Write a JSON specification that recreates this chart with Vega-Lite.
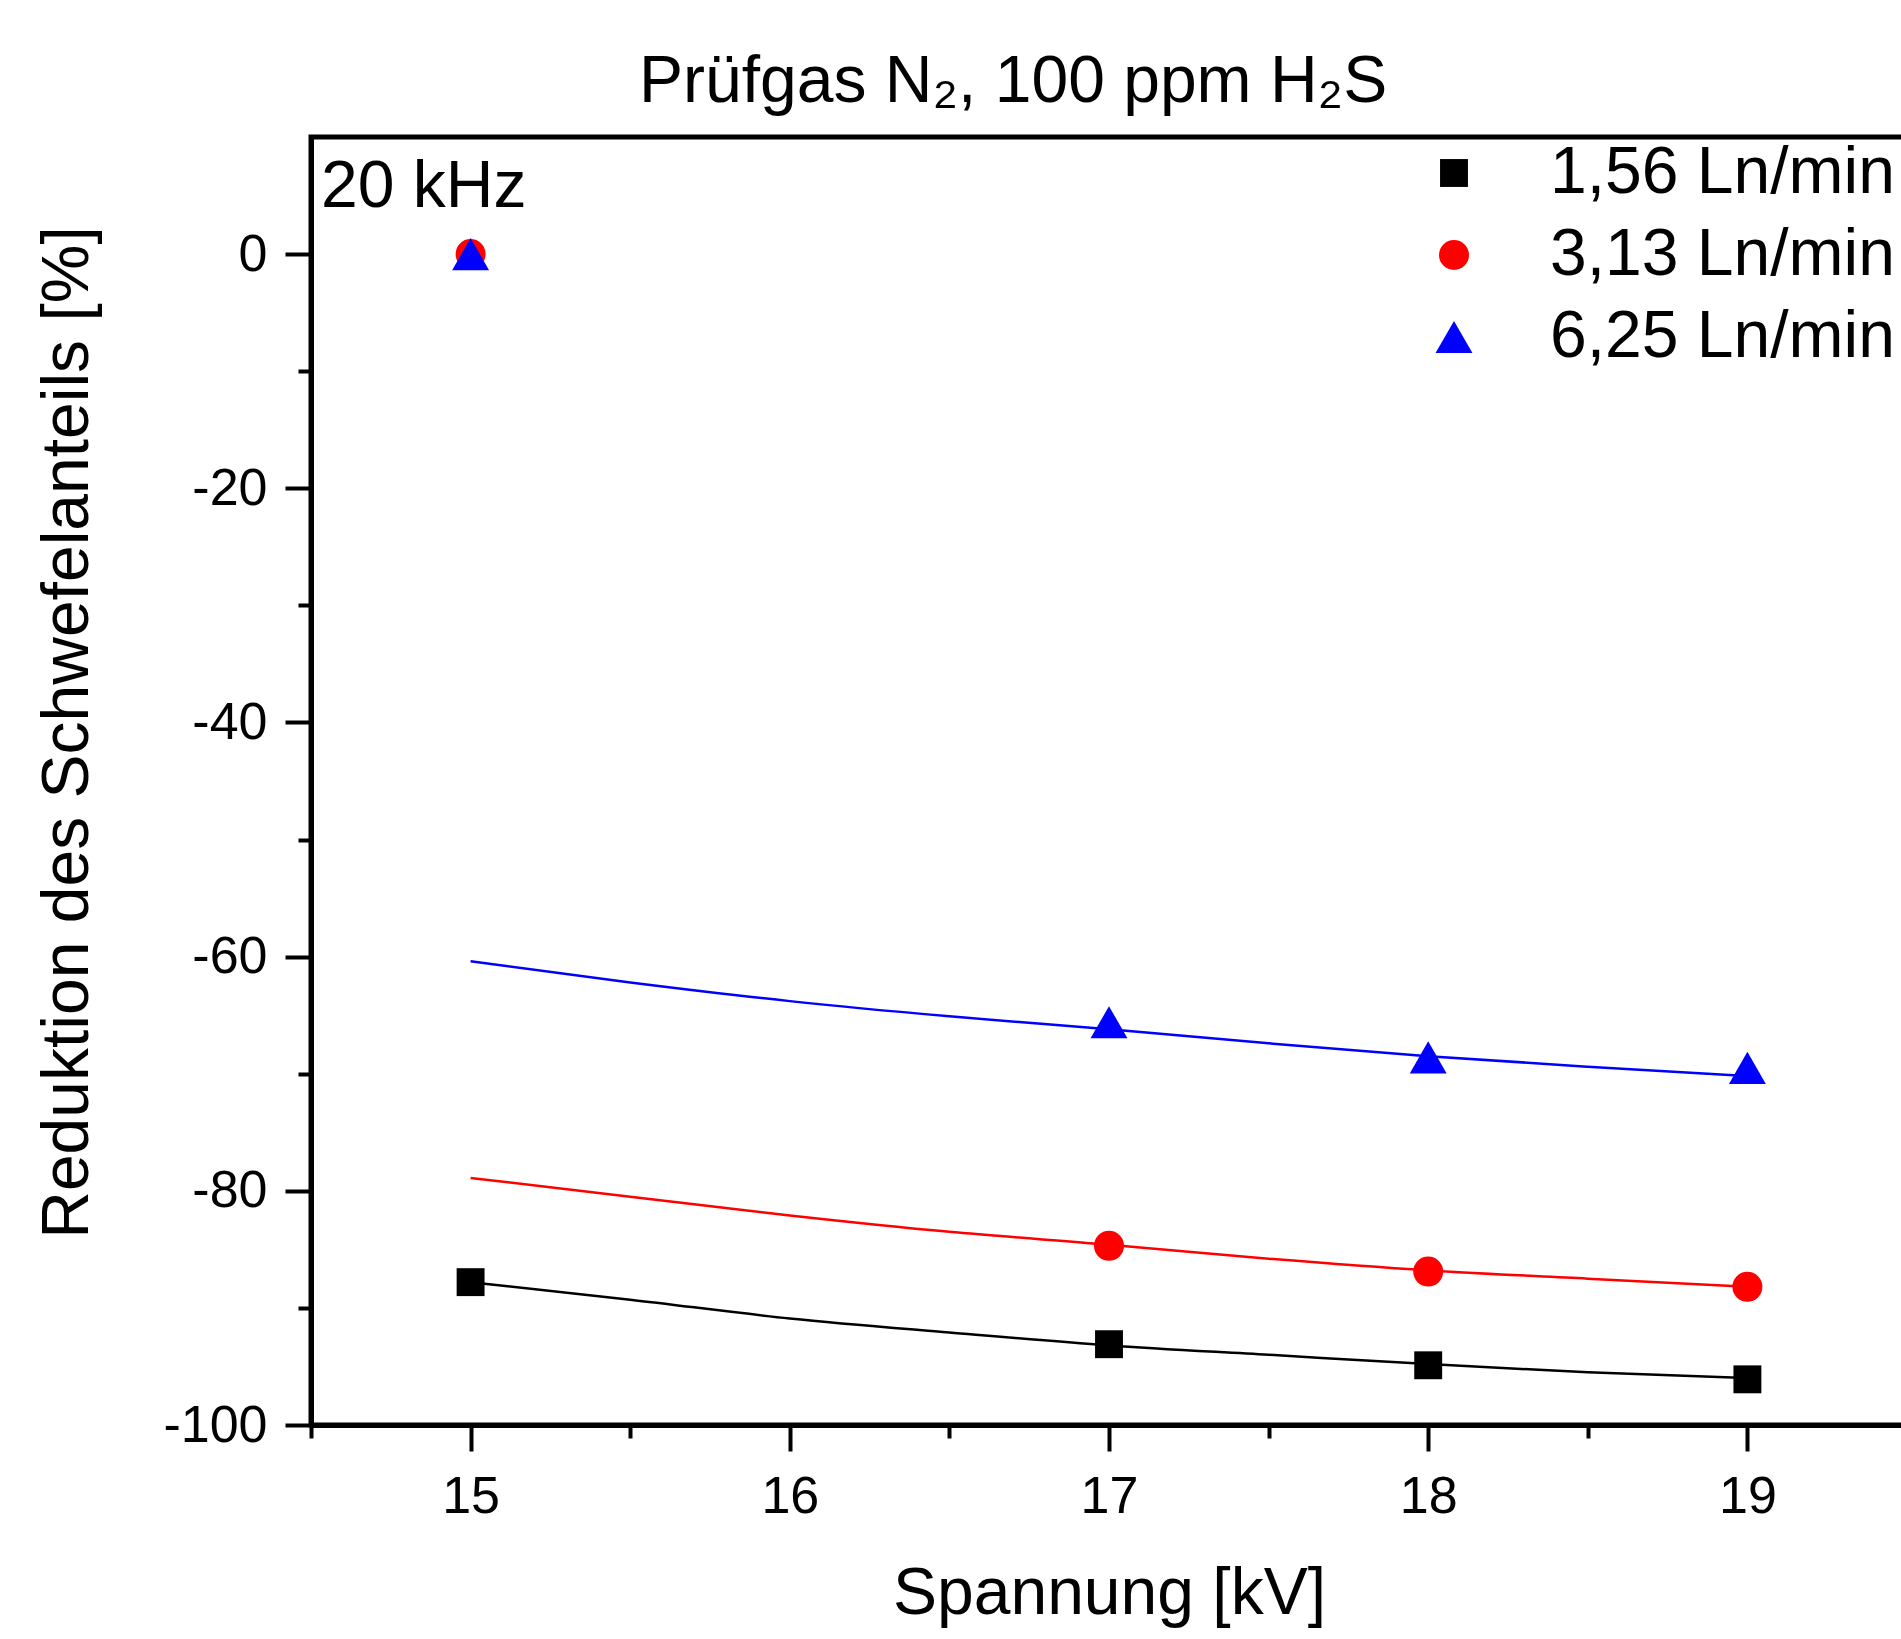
{
  "$schema": "https://vega.github.io/schema/vega-lite/v6.json",
  "autosize": {"type": "none"},
  "padding": {"left": 311, "top": 137, "right": 0, "bottom": 214},
  "width": 1596,
  "height": 1288,
  "background": "white",
  "config": {
    "font": "Liberation Sans",
    "view": {"stroke": "black", "strokeWidth": 5}
  },
  "title": {
    "text": "Prüfgas N₂, 100 ppm H₂S",
    "fontSize": 66,
    "fontWeight": "normal",
    "anchor": "start",
    "frame": "group",
    "dx": 328,
    "dy": 66,
    "offset": 35,
    "baseline": "alphabetic",
    "color": "black",
    "font": "Liberation Sans"
  },
  "datasets": {
    "points": [
      {"series": "1,56 Ln/min", "x": 15, "y": -87.8},
      {"series": "1,56 Ln/min", "x": 17, "y": -93.1},
      {"series": "1,56 Ln/min", "x": 18, "y": -94.9},
      {"series": "1,56 Ln/min", "x": 19, "y": -96.1},
      {"series": "3,13 Ln/min", "x": 15, "y": 0},
      {"series": "3,13 Ln/min", "x": 17, "y": -84.7},
      {"series": "3,13 Ln/min", "x": 18, "y": -86.9},
      {"series": "3,13 Ln/min", "x": 19, "y": -88.2},
      {"series": "6,25 Ln/min", "x": 15, "y": 0},
      {"series": "6,25 Ln/min", "x": 17, "y": -65.6},
      {"series": "6,25 Ln/min", "x": 18, "y": -68.6},
      {"series": "6,25 Ln/min", "x": 19, "y": -69.5}
    ],
    "fits": [
      {"series": "1,56 Ln/min", "x": 15, "y": -87.8},
      {"series": "1,56 Ln/min", "x": 15.5, "y": -89.3},
      {"series": "1,56 Ln/min", "x": 16, "y": -90.9},
      {"series": "1,56 Ln/min", "x": 16.5, "y": -92.1},
      {"series": "1,56 Ln/min", "x": 17, "y": -93.2},
      {"series": "1,56 Ln/min", "x": 17.5, "y": -94.0},
      {"series": "1,56 Ln/min", "x": 18, "y": -94.8},
      {"series": "1,56 Ln/min", "x": 18.5, "y": -95.5},
      {"series": "1,56 Ln/min", "x": 19, "y": -96.0},
      {"series": "3,13 Ln/min", "x": 15, "y": -78.9},
      {"series": "3,13 Ln/min", "x": 15.5, "y": -80.5},
      {"series": "3,13 Ln/min", "x": 16, "y": -82.1},
      {"series": "3,13 Ln/min", "x": 16.5, "y": -83.5},
      {"series": "3,13 Ln/min", "x": 17, "y": -84.6},
      {"series": "3,13 Ln/min", "x": 17.5, "y": -85.8},
      {"series": "3,13 Ln/min", "x": 18, "y": -86.8},
      {"series": "3,13 Ln/min", "x": 18.5, "y": -87.5},
      {"series": "3,13 Ln/min", "x": 19, "y": -88.2},
      {"series": "6,25 Ln/min", "x": 15, "y": -60.4},
      {"series": "6,25 Ln/min", "x": 15.5, "y": -62.2},
      {"series": "6,25 Ln/min", "x": 16, "y": -63.8},
      {"series": "6,25 Ln/min", "x": 16.5, "y": -65.1},
      {"series": "6,25 Ln/min", "x": 17, "y": -66.2},
      {"series": "6,25 Ln/min", "x": 17.5, "y": -67.4},
      {"series": "6,25 Ln/min", "x": 18, "y": -68.5},
      {"series": "6,25 Ln/min", "x": 18.5, "y": -69.4},
      {"series": "6,25 Ln/min", "x": 19, "y": -70.2}
    ],
    "notes": [
      {"label": "20 kHz", "x": 14.5, "y": 10}
    ]
  },
  "encoding": {
    "x": {
      "field": "x",
      "type": "quantitative",
      "scale": {"domain": [14.5, 19.5], "nice": false, "zero": false},
      "axis": {
        "values": [14.5, 15, 15.5, 16, 16.5, 17, 17.5, 18, 18.5, 19, 19.5],
        "labelExpr": "datum.value % 1 == 0 ? '' + datum.value : ''",
        "tickSize": {"condition": {"test": "datum.value % 1 != 0", "value": 13}, "value": 26},
        "tickWidth": 4,
        "tickColor": "black",
        "domainColor": "black",
        "domainWidth": 5,
        "labelFontSize": 52,
        "labelPadding": 20,
        "labelColor": "black",
        "labelFlush": false,
        "labelOverlap": false,
        "grid": false,
        "title": "Spannung [kV]",
        "titleFontSize": 66,
        "titleFontWeight": "normal",
        "titleColor": "black",
        "titleBaseline": "alphabetic",
        "titleX": 798,
        "titleY": 188
      }
    },
    "y": {
      "field": "y",
      "type": "quantitative",
      "scale": {"domain": [-100, 10], "nice": false, "zero": false},
      "axis": {
        "values": [-100, -90, -80, -70, -60, -50, -40, -30, -20, -10, 0],
        "labelExpr": "datum.value % 20 == 0 ? '' + datum.value : ''",
        "tickSize": {"condition": {"test": "datum.value % 20 != 0", "value": 13}, "value": 26},
        "tickWidth": 4,
        "tickColor": "black",
        "domainColor": "black",
        "domainWidth": 5,
        "labelFontSize": 52,
        "labelPadding": 18,
        "labelColor": "black",
        "labelFlush": false,
        "labelOverlap": false,
        "grid": false,
        "title": "Reduktion des Schwefelanteils [%]",
        "titleFontSize": 66,
        "titleFontWeight": "normal",
        "titleColor": "black",
        "titleAngle": 270,
        "titleAlign": "center",
        "titleBaseline": "alphabetic",
        "titleX": -224,
        "titleY": 595
      }
    }
  },
  "layer": [
    {
      "data": {"name": "fits"},
      "mark": {"type": "line", "interpolate": "monotone", "strokeWidth": 2.5},
      "encoding": {
        "color": {
          "field": "series",
          "type": "nominal",
          "scale": {"domain": ["1,56 Ln/min", "3,13 Ln/min", "6,25 Ln/min"], "range": ["#000000", "#ff0000", "#0000ff"]},
          "legend": {
            "orient": "none",
            "legendX": 1110,
            "legendY": 3,
            "title": null,
            "padding": 0,
            "labelFontSize": 66,
            "labelColor": "black",
            "labelOffset": 63,
            "labelLimit": 1000,
            "rowPadding": 16,
            "symbolSize": 900,
            "symbolStrokeWidth": 0,
            "symbolOpacity": 1
          }
        }
      }
    },
    {
      "data": {"name": "points"},
      "mark": {"type": "point", "filled": true, "opacity": 1, "strokeWidth": 0, "size": 900},
      "encoding": {
        "color": {
          "field": "series",
          "type": "nominal",
          "scale": {"domain": ["1,56 Ln/min", "3,13 Ln/min", "6,25 Ln/min"], "range": ["#000000", "#ff0000", "#0000ff"]}
        },
        "shape": {
          "field": "series",
          "type": "nominal",
          "title": null,
          "scale": {
            "domain": ["1,56 Ln/min", "3,13 Ln/min", "6,25 Ln/min"],
            "range": ["M-0.93,-0.93L0.93,-0.93L0.93,0.93L-0.93,0.93Z", "circle", "M0,-1.07L1.23,1.07L-1.23,1.07Z"]
          }
        }
      }
    },
    {
      "data": {"name": "notes"},
      "mark": {"type": "text", "align": "left", "baseline": "alphabetic", "fontSize": 66, "color": "black", "dx": 10, "dy": 70},
      "encoding": {
        "x": {"field": "x", "type": "quantitative"},
        "y": {"field": "y", "type": "quantitative"},
        "text": {"field": "label"}
      }
    }
  ]
}
